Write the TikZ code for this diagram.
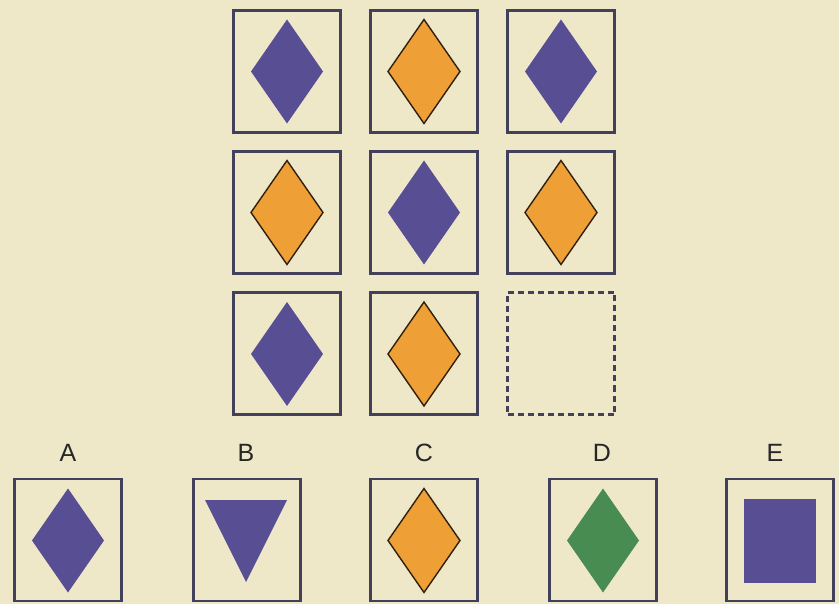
\documentclass[tikz,border=0pt]{standalone}
\usepackage{fontspec}
\setmainfont{Liberation Sans}
\definecolor{bg}{RGB}{238,231,200}
\definecolor{purp}{RGB}{88,78,148}
\definecolor{orng}{RGB}{238,160,55}
\definecolor{grn}{RGB}{72,140,82}
\definecolor{edge}{RGB}{66,64,90}
\newcommand\mydia[3]{\fill[#3] (#1,#2-52) -- (#1+36,#2) -- (#1,#2+52) -- (#1-36,#2) -- cycle;}
\newcommand\myodia[2]{\filldraw[fill=orng,draw=black!75!brown,line width=1.4pt] (#1,#2-52) -- (#1+36,#2) -- (#1,#2+52) -- (#1-36,#2) -- cycle;}
\begin{document}
\begin{tikzpicture}[x=1pt,y=-1pt,
  cell/.style={draw=edge,line width=2.2pt,minimum width=107pt,minimum height=122pt,inner sep=0pt},
  lab/.style={font=\fontsize{25}{25}\selectfont,text=black!85,inner sep=0pt}]
\fill[bg] (0,0) rectangle (839,604);
\useasboundingbox (0,0) rectangle (839,604);
% grid
\node[cell] (r1c1) at (287,71.5) {};
\node[cell] (r1c2) at (424,71.5) {};
\node[cell] (r1c3) at (561,71.5) {};
\node[cell] (r2c1) at (287,212.5) {};
\node[cell] (r2c2) at (424,212.5) {};
\node[cell] (r2c3) at (561,212.5) {};
\node[cell] (r3c1) at (287,353.5) {};
\node[cell] (r3c2) at (424,353.5) {};
\node[cell,dash pattern=on 6pt off 4pt] (r3c3) at (561,353.5) {};
\mydia{287}{71.5}{purp}
\myodia{424}{71.5}
\mydia{561}{71.5}{purp}
\myodia{287}{212.5}
\mydia{424}{212.5}{purp}
\myodia{561}{212.5}
\mydia{287}{354}{purp}
\myodia{424}{354}
% options
\node[cell] (oa) at (68,540) {};
\node[cell] (ob) at (247,540) {};
\node[cell] (oc) at (424,540) {};
\node[cell] (od) at (603,540) {};
\node[cell] (oe) at (780,540) {};
\node[lab] (la) at (68,453) {A};
\node[lab] (lb) at (246,453) {B};
\node[lab] (lc) at (424,453) {C};
\node[lab] (ld) at (602,453) {D};
\node[lab] (le) at (775,453) {E};
\mydia{68}{540.5}{purp}
\fill[purp] (205,500) -- (287,500) -- (246,582) -- cycle;
\myodia{424}{540.5}
\mydia{603}{540.5}{grn}
\fill[purp] (744,499) rectangle (816,583);
\end{tikzpicture}
\end{document}
